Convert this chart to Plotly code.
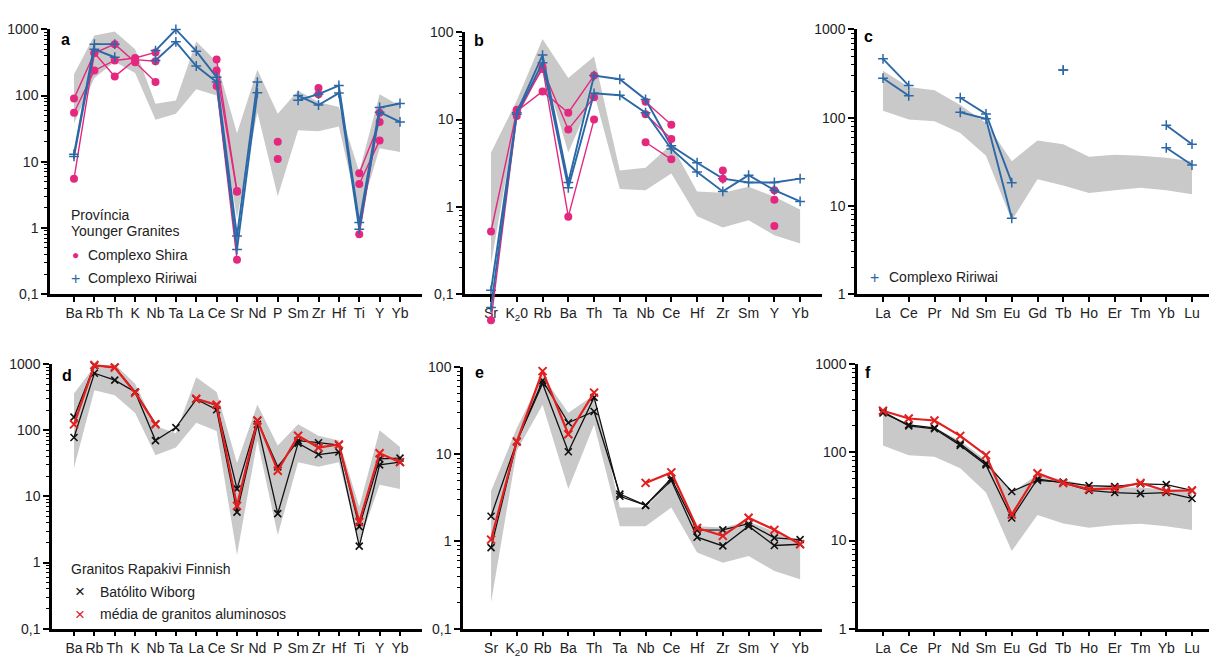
import plotly.graph_objects as go

# ---------------- data ----------------
A_CATS = ["Ba", "Rb", "Th", "K", "Nb", "Ta", "La", "Ce", "Sr", "Nd", "P", "Sm", "Zr", "Hf", "Ti", "Y", "Yb"]
A_BAND_UP = [210, 810, 935, 500, 75, 84, 660, 325, 27, 245, 53, 118, 80, 67, 7, 105, 70]
A_BAND_LO = [38, 185, 325, 220, 43, 53, 125, 100, 1.4, 56, 3, 30, 29, 34, 1.5, 16, 14]
A_SHIRA_1 = [90, 440, 600, 320, 160, None, None, 350, 3.6, None, 20, None, 130, None, 6.7, 40, None]
A_SHIRA_2 = [55, 240, 340, 370, 450, None, None, 240, 3.5, None, 11, None, 105, None, 4.6, 21, None]
A_SHIRA_3 = [5.5, 440, 195, 350, 330, None, None, 140, 0.33, None, None, None, None, None, 0.8, 55, None]
A_RIR_1 = [13, 600, 600, None, 480, 1000, 470, 190, 0.75, 160, None, 85, 105, 142, 1.2, 66, 76]
A_RIR_2 = [12, 500, 380, None, 340, 650, 280, 160, 0.47, 110, None, 100, 72, 109, 0.95, 56, 40]

B_CATS = ["Sr", "K2O", "Rb", "Ba", "Th", "Ta", "Nb", "Ce", "Hf", "Zr", "Sm", "Y", "Yb"]
B_LABELS = ["Sr", "K<sub>2</sub>0", "Rb", "Ba", "Th", "Ta", "Nb", "Ce", "Hf", "Zr", "Sm", "Y", "Yb"]
B_BAND_UP = [4.2, 16.5, 84, 30, 53, 2.6, 2.8, 5.2, 1.5, 1.45, 1.7, 1.3, 0.93]
B_BAND_LO = [0.22, 11, 42, 4.2, 20, 1.6, 1.55, 2.4, 0.78, 0.58, 0.7, 0.47, 0.38]
B_SHIRA_1 = [0.52, 12.5, 21, 12, 32, None, 16, 8.7, None, 2.6, None, 1.55, None]
B_SHIRA_2 = [0.05, 11, 40, 0.77, 10, None, 11.5, 6, None, 2.1, None, 1.2, None]
B_SHIRA_3 = [None, 13, 38, 7.7, 18, None, 5.5, 3.5, None, None, None, 0.6, None]
B_RIR_1 = [0.11, 12, 55, 1.9, 32, 29, 17, 5.0, 3.2, 2.1, 1.9, 1.9, 2.1]
B_RIR_2 = [0.07, 11.5, 45, 1.65, 20, 19, 12, 4.6, 2.5, 1.5, 2.3, 1.55, 1.15]

C_CATS = ["La", "Ce", "Pr", "Nd", "Sm", "Eu", "Gd", "Tb", "Ho", "Er", "Tm", "Yb", "Lu"]
C_BAND_UP = [340, 222, 205, 139, 87, 32, 55, 50, 36, 38, 37, 35, 32]
C_BAND_LO = [120, 95, 91, 67, 37, 6.8, 20, 17, 14, 15, 16, 15, 13.5]
C_RIR_1 = [465, 231, None, 168, 110, 18.3, None, 346, None, None, None, 82, 50]
C_RIR_2 = [280, 177, None, 115, 97, 7.2, None, 346, None, None, None, 45.5, 29]

D_BAND_UP = [360, 925, 1000, 505, 116, 90, 635, 380, 32, 245, 59, 123, 83, 70, 7, 100, 56]
D_BAND_LO = [27, 405, 340, 183, 42, 55, 130, 98, 1.3, 70, 2.6, 33, 28, 33, 2.0, 15, 13]
D_WIB_1 = [78, 730, 575, 380, 70, 110, 295, 205, 5.8, 123, 5.5, 64, 43, 47, 1.77, 30, 33]
D_WIB_2 = [158, 950, 900, 380, 125, None, 300, 240, 13, 140, 28, 70, 65, 60, 3.5, 37, 38]
D_ALUM = [123, 970, 890, 370, 123, None, 300, 243, 7.2, 141, 24.5, 83, 55, 61, 4.1, 45, 33]

E_BAND_UP = [3.8, 20, 79, 30, 48, 2.45, 2.45, 4.9, 1.5, 1.45, 1.7, 1.3, 0.93]
E_BAND_LO = [0.2, 11, 37, 4, 22, 1.5, 1.5, 2.45, 0.75, 0.57, 0.68, 0.46, 0.37]
E_WIB_1 = [1.95, 14, 70, 23, 31, 3.5, 2.6, 5.3, 1.35, 1.36, 1.6, 1.1, 1.05]
E_WIB_2 = [0.85, 14, 65, 10.7, 45, 3.3, 2.6, 5.0, 1.12, 0.89, 1.5, 0.9, 0.93]
E_ALUM = [1.05, 14, 90, 17, 51, None, 4.7, 6.2, 1.43, 1.16, 1.87, 1.36, 0.93]

F_BAND_UP = [280, 208, 190, 135, 82, 35, 56, 49, 42, 40, 40, 38, 36]
F_BAND_LO = [120, 93, 89, 66, 35, 7.6, 19.5, 15.6, 14, 15, 15.5, 14.5, 13.2]
F_WIB_1 = [280, 205, 190, 125, 75, 36, 48, 46, 42, 41, 44, 43, 37]
F_WIB_2 = [290, 200, 185, 120, 72, 18, 50, 45, 37, 35, 34, 35, 30]
F_ALUM = [297, 242, 230, 154, 93, 19.7, 58, 45, 38, 39, 45, 36.5, 37]

# ---------------- styling ----------------
W, H = 1209, 664
FONT = "Liberation Sans, Arial, sans-serif"
PINK = "#e5287f"
BLUE = "#2d68a6"
RED = "#e3201f"
BLACK = "#111111"
GRAY = "#c9c9c9"
TXT = "#222222"

def fx(px):
    return px / W

def fy(py):
    return 1 - py / H

# panel geometry in pixels
PANELS = {
    1: dict(x0=50, x1=422, yt=22, yb=293, xr=[-1.178, 17.08], yr=[-1, 3]),
    2: dict(x0=465, x1=822, yt=25, yb=293, xr=[-1.01, 12.85], yr=[-1, 2]),
    3: dict(x0=857, x1=1209, yt=22, yb=293, xr=[-1.01, 12.66], yr=[0, 3]),
    4: dict(x0=52, x1=422, yt=365, yb=636, xr=[-1.08, 17.08], yr=[-1, 3]),
    5: dict(x0=463, x1=822, yt=368, yb=636, xr=[-1.09, 12.85], yr=[-1, 2]),
    6: dict(x0=858, x1=1209, yt=365, yb=636, xr=[-0.97, 12.66], yr=[0, 3]),
}

fig = go.Figure()

def ax(i):
    return ("x" if i == 1 else f"x{i}"), ("y" if i == 1 else f"y{i}")

def band(i, cats, up, lo):
    xa, ya = ax(i)
    fig.add_trace(go.Scatter(x=cats + cats[::-1], y=up + lo[::-1], fill="toself",
                             fillcolor=GRAY, mode="lines", line=dict(width=0, color="rgba(0,0,0,0)"),
                             hoverinfo="skip", showlegend=False, xaxis=xa, yaxis=ya))

def series(i, cats, vals, kind, yaxis=None):
    xa, ya = ax(i)
    if yaxis:
        ya = yaxis
    if kind == "shira":
        line = dict(color=PINK, width=1.4)
        marker = dict(symbol="circle", size=8, color=PINK)
    elif kind == "ririwai":
        line = dict(color=BLUE, width=1.9)
        marker = dict(symbol="cross-thin", size=7, color=BLUE, line=dict(color=BLUE, width=1.5))
    elif kind == "wiborg":
        line = dict(color=BLACK, width=1.3)
        marker = dict(symbol="x-thin", size=7, color=BLACK, line=dict(color=BLACK, width=1.6))
    else:
        line = dict(color=RED, width=2.2)
        marker = dict(symbol="x-thin", size=8, color=RED, line=dict(color=RED, width=2.0))
    fig.add_trace(go.Scatter(x=cats, y=vals, mode="lines+markers", line=line, marker=marker,
                             connectgaps=False, cliponaxis=False, showlegend=False,
                             hoverinfo="x+y", xaxis=xa, yaxis=ya))

# panel a
band(1, A_CATS, A_BAND_UP, A_BAND_LO)
for s in (A_SHIRA_1, A_SHIRA_2, A_SHIRA_3):
    series(1, A_CATS, s, "shira")
for s in (A_RIR_1, A_RIR_2):
    series(1, A_CATS, s, "ririwai")
# panel b (samples reaching below 0,1 use an extended hidden axis with the same scale)
band(2, B_CATS, B_BAND_UP, B_BAND_LO)
series(2, B_CATS, B_SHIRA_1, "shira")
series(2, B_CATS, B_SHIRA_2, "shira", yaxis="y7")
series(2, B_CATS, B_SHIRA_3, "shira")
series(2, B_CATS, B_RIR_1, "ririwai")
series(2, B_CATS, B_RIR_2, "ririwai", yaxis="y7")
# panel c
band(3, C_CATS, C_BAND_UP, C_BAND_LO)
for s in (C_RIR_1, C_RIR_2):
    series(3, C_CATS, s, "ririwai")
# panel d
band(4, A_CATS, D_BAND_UP, D_BAND_LO)
for s in (D_WIB_1, D_WIB_2):
    series(4, A_CATS, s, "wiborg")
series(4, A_CATS, D_ALUM, "alum")
# panel e
band(5, B_CATS, E_BAND_UP, E_BAND_LO)
for s in (E_WIB_1, E_WIB_2):
    series(5, B_CATS, s, "wiborg")
series(5, B_CATS, E_ALUM, "alum")
# panel f
band(6, C_CATS, F_BAND_UP, F_BAND_LO)
for s in (F_WIB_1, F_WIB_2):
    series(6, C_CATS, s, "wiborg")
series(6, C_CATS, F_ALUM, "alum")

CAT_OF = {1: (A_CATS, A_CATS), 2: (B_CATS, B_LABELS), 3: (C_CATS, C_CATS),
          4: (A_CATS, A_CATS), 5: (B_CATS, B_LABELS), 6: (C_CATS, C_CATS)}

layout = dict(width=W, height=H, margin=dict(l=0, r=0, t=0, b=0),
              paper_bgcolor="white", plot_bgcolor="rgba(0,0,0,0)",
              separators=",.",
              font=dict(family=FONT, size=14, color=TXT), showlegend=False)

for i, p in PANELS.items():
    cats, labels = CAT_OF[i]
    xn = "xaxis" if i == 1 else f"xaxis{i}"
    yn = "yaxis" if i == 1 else f"yaxis{i}"
    xa, ya = ax(i)
    layout[xn] = dict(domain=[fx(p["x0"]), fx(p["x1"])], anchor=ya, type="category",
                      categoryorder="array", categoryarray=cats, range=p["xr"],
                      tickmode="array", tickvals=cats, ticktext=labels,
                      showline=True, linecolor="black", linewidth=2.5, mirror=False,
                      ticks="outside", ticklen=5, tickwidth=1.5, tickcolor="black",
                      showgrid=False, zeroline=False, fixedrange=True,
                      tickfont=dict(family=FONT, size=14, color=TXT))
    layout[yn] = dict(domain=[fy(p["yb"]), fy(p["yt"])], anchor=xa, type="log",
                      range=p["yr"], dtick=1, exponentformat="none", separatethousands=False,
                      showline=True, linecolor="black", linewidth=2.5,
                      ticks="outside", ticklen=6, tickwidth=1.5, tickcolor="black",
                      minor=dict(dtick="D1", ticks="outside", ticklen=3,
                                 tickwidth=1, tickcolor="black", showgrid=False),
                      showgrid=False, zeroline=False, fixedrange=True,
                      tickfont=dict(family=FONT, size=14, color=TXT))

# hidden extension of panel b's y scale, reaching below its axis line
pb = PANELS[2]
ext_bottom = 330
per_dec = (pb["yb"] - pb["yt"]) / (pb["yr"][1] - pb["yr"][0])
layout["yaxis7"] = dict(domain=[fy(ext_bottom), fy(pb["yt"])], anchor="free", position=0,
                        type="log", range=[pb["yr"][1] - (ext_bottom - pb["yt"]) / per_dec, pb["yr"][1]],
                        visible=False, fixedrange=True)

ann = []

def text(x, y, s, size=14, color=TXT, bold=False, xanchor="left"):
    ann.append(dict(x=fx(x), y=fy(y), xref="paper", yref="paper", text=(f"<b>{s}</b>" if bold else s),
                    showarrow=False, xanchor=xanchor, yanchor="middle",
                    font=dict(family=FONT, size=size, color=color)))

# panel letters
for (lx, ly, s) in [(65, 32, "a"), (479, 33, "b"), (868, 29, "c"),
                    (67, 377, "d"), (479, 374, "e"), (868, 373, "f")]:
    text(lx, ly, s, size=16, color="black", bold=True, xanchor="center")

# legends (text)
text(69, 212, "Província")
text(69, 229, "Younger Granites")
text(75, 253, "●", size=12, color=PINK, xanchor="center")
text(86, 253, "Complexo Shira")
text(75, 277, "+", size=16, color=BLUE, xanchor="center")
text(86, 277, "Complexo Ririwai")

text(874, 276, "+", size=16, color=BLUE, xanchor="center")
text(887, 276, "Complexo Ririwai")

text(69, 575, "Granitos Rapakivi Finnish")
text(80, 598, "×", size=17, color=BLACK, xanchor="center")
text(98, 598, "Batólito Wiborg")
text(80, 621, "×", size=17, color=RED, xanchor="center")
text(98, 621, "média de granitos aluminosos")

layout["annotations"] = ann
fig.update_layout(**layout)
fig.write_html("out.html")
